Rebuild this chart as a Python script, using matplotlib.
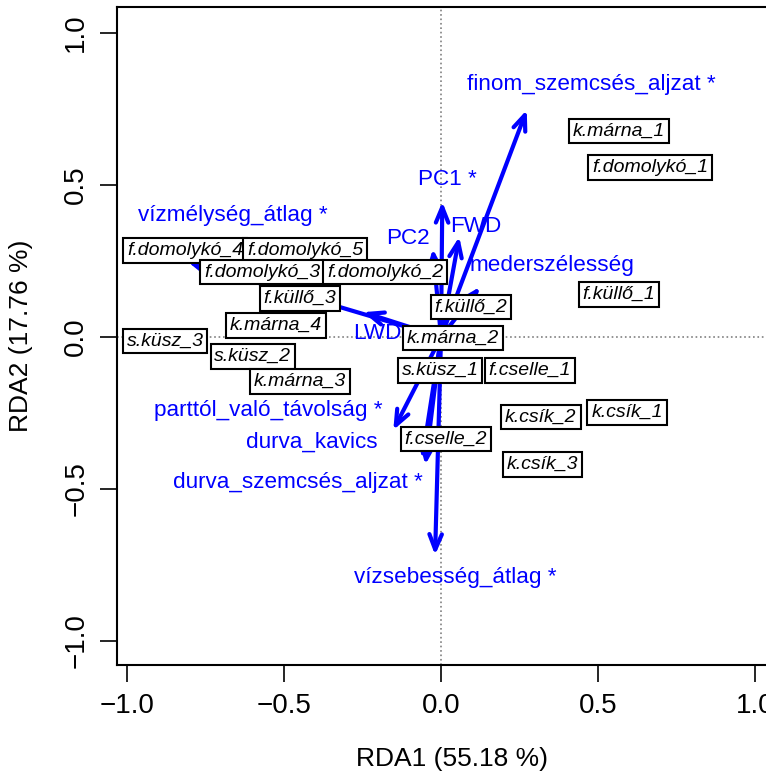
import matplotlib
matplotlib.use('Agg')
import matplotlib.pyplot as plt

plt.rcParams['font.family'] = ['Liberation Sans', 'DejaVu Sans']

# species scores (boxed labels)
species = ['k.márna_1', 'f.domolykó_1', 'f.küllő_1', 'f.domolykó_4', 'f.domolykó_5',
           'f.domolykó_3', 'f.domolykó_2', 'f.küllő_3', 'k.márna_4', 's.küsz_3',
           's.küsz_2', 'k.márna_3', 'f.küllő_2', 'k.márna_2', 's.küsz_1',
           'f.cselle_1', 'k.csík_2', 'k.csík_1', 'f.cselle_2', 'k.csík_3']
sp_x = [0.567, 0.666, 0.567, -0.815, -0.433, -0.570, -0.178, -0.449, -0.525, -0.879,
        -0.599, -0.449, 0.096, 0.038, -0.003, 0.283, 0.318, 0.592, 0.016, 0.322]
sp_y = [0.678, 0.559, 0.141, 0.286, 0.286, 0.214, 0.214, 0.128, 0.039, -0.013,
        -0.063, -0.145, 0.099, -0.003, -0.109, -0.109, -0.263, -0.247, -0.335, -0.418]

# environmental variables (arrows)
env = ['finom_szemcsés_aljzat *', 'PC1 *', 'FWD', 'PC2', 'mederszélesség',
       'vízmélység_átlag *', 'LWD', 'parttól_való_távolság *', 'durva_kavics',
       'durva_szemcsés_aljzat *', 'vízsebesség_átlag *']
env_x = [0.273, 0.004, 0.058, -0.026, 0.124, -0.806, -0.248, -0.152, -0.060, -0.050, -0.019]
env_y = [0.747, 0.445, 0.330, 0.290, 0.165, 0.247, 0.082, -0.306, -0.400, -0.420, -0.717]
lab_x = [0.48, 0.02, 0.11, -0.105, 0.354, -0.662, -0.204, -0.55, -0.41, -0.455, 0.045]
lab_y = [0.83, 0.52, 0.365, 0.325, 0.237, 0.40, 0.013, -0.24, -0.345, -0.48, -0.79]

fig = plt.figure(figsize=(7.66, 7.76), dpi=100)
ax = fig.add_axes([0.1527, 0.143, 0.874, 0.848])
ax.set_xlim(-1.032, 1.10)
ax.set_ylim(-1.079, 1.086)

ax.axhline(0, color='gray', ls=':', lw=1.2, zorder=1)
ax.axvline(0, color='gray', ls=':', lw=1.2, zorder=1)

for x, y in zip(env_x, env_y):
    ax.annotate('', xy=(x, y), xytext=(0, 0),
                arrowprops=dict(arrowstyle='->,head_length=1.1,head_width=0.45',
                                color='#0000ff', lw=3, shrinkA=0, shrinkB=0),
                zorder=2)

for s, x, y in zip(species, sp_x, sp_y):
    ax.text(x, y, s, ha='center', va='center', style='italic', fontsize=14,
            zorder=3,
            bbox=dict(boxstyle='square,pad=0.2', fc='white', ec='black', lw=1.5))

for s, x, y in zip(env, lab_x, lab_y):
    ax.text(x, y, s, ha='center', va='center', color='#0000ff', fontsize=16.2, zorder=4)

ax.set_xticks([-1.0, -0.5, 0.0, 0.5, 1.0])
ax.set_yticks([-1.0, -0.5, 0.0, 0.5, 1.0])
ax.set_xticklabels(['−1.0', '−0.5', '0.0', '0.5', '1.0'])
ax.set_yticklabels(['−1.0', '−0.5', '0.0', '0.5', '1.0'], rotation=90, va='center')
ax.tick_params(labelsize=20, length=12, width=1.2, pad=8)
for sp in ax.spines.values():
    sp.set_linewidth(1.5)

ax.set_xlabel('RDA1 (55.18 %)', fontsize=19, labelpad=20)
ax.set_ylabel('RDA2 (17.76 %)', fontsize=19, labelpad=22)

fig.savefig('out.png', dpi=100)
